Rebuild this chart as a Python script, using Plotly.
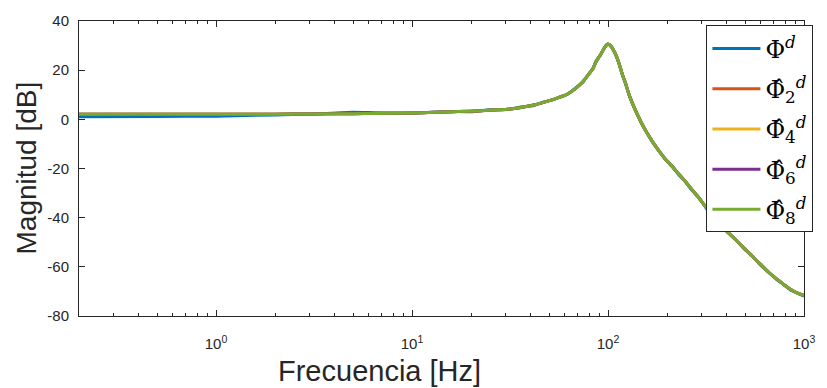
import plotly.graph_objects as go

# ---------------- data ----------------
freq_hz = [0.2, 0.5, 1, 2, 3, 5, 6.5, 10, 15, 20, 25, 30.6, 36, 41.8, 47, 52.7, 57,
           61.5, 68, 74.6, 80, 83.8, 87, 92.2, 96, 100, 104, 110, 114, 118.6, 123,
           128, 134, 141, 149, 158, 170, 181, 195, 212, 230, 247, 267, 290, 318,
           355, 400, 445, 495, 545, 601, 660, 728, 790, 849, 920, 1000]

mag_phi = [1.1, 1.15, 1.3, 1.8, 2.1, 2.9, 2.7, 2.5, 3.2, 3.1, 3.9, 4.0, 5.0, 5.6,
           7.1, 8.0, 9.2, 10.0, 12.6, 15.2, 18.7, 20.5, 23.7, 26.5, 29.3, 30.5,
           29.6, 25.8, 22.7, 17.9, 14.7, 9.9, 6.2, 1.9, -2.0, -5.5, -9.7, -12.5,
           -16.0, -18.9, -22.6, -25.2, -28.7, -31.7, -36.3, -40.7, -45.4, -48.7,
           -52.7, -55.6, -59.3, -62.2, -65.3, -67.3, -69.3, -70.6, -71.9]

mag_est2 = [2.1, 2.1, 2.1, 2.1, 2.2, 2.3, 2.4, 2.6, 3.0, 3.3, 3.7, 4.1, 4.8, 5.8,
            6.9, 8.1, 9.0, 10.1, 12.4, 15.4, 18.5, 20.7, 23.5, 26.7, 29.2, 30.6,
            29.5, 26.0, 22.5, 18.1, 14.5, 10.1, 6.0, 2.1, -1.8, -5.5, -9.5, -12.6,
            -15.9, -19.1, -22.3, -25.1, -28.4, -31.8, -36.0, -40.6, -45.1, -48.8,
            -52.4, -55.8, -59.0, -62.2, -65.0, -67.3, -69.0, -70.6, -71.6]
mag_est4 = list(mag_est2)
mag_est6 = list(mag_est2)
mag_est8 = list(mag_est2)

series_names = ["Φ<sup><i>d</i></sup>",
                "Φ̂<sub>2</sub><sup><i>d</i></sup>",
                "Φ̂<sub>4</sub><sup><i>d</i></sup>",
                "Φ̂<sub>6</sub><sup><i>d</i></sup>",
                "Φ̂<sub>8</sub><sup><i>d</i></sup>"]
series_values = [mag_phi, mag_est2, mag_est4, mag_est6, mag_est8]
series_colors = ["#0072BD", "#D95319", "#EDB120", "#7E2F8E", "#77AC30"]

x_tick_vals = [1, 10, 100, 1000]
x_tick_text = ["10<sup>0</sup>", "10<sup>1</sup>", "10<sup>2</sup>", "10<sup>3</sup>"]
y_tick_vals = [-80, -60, -40, -20, 0, 20, 40]
y_tick_text = ["-80", "-60", "-40", "-20", "0", "20", "40"]

# ---------------- figure ----------------
fig = go.Figure()
for i, (name, vals, col) in enumerate(zip(series_names, series_values, series_colors)):
    fig.add_trace(go.Scatter(x=freq_hz, y=vals, mode="lines", name=name,
                             legendgroup=f"g{i}",
                             line=dict(color=col, width=3, shape="spline", smoothing=0.5)))

axis_col = "#262626"
minor_vals = [m * d for d in [0.1, 1, 10, 100] for m in range(2, 10) if 0.2 <= m * d <= 1000]

fig.update_xaxes(type="log", range=[-0.699, 3.0], tickmode="array",
                 tickvals=x_tick_vals, ticktext=x_tick_text,
                 ticks="inside", ticklen=6, tickwidth=1, tickcolor=axis_col,
                 minor=dict(tickmode="array", tickvals=minor_vals, ticks="inside",
                            ticklen=3, tickcolor=axis_col, showgrid=False),
                 showline=True, linecolor=axis_col, linewidth=1, mirror="allticks",
                 showgrid=False, zeroline=False,
                 tickfont=dict(family="Liberation Sans, Arial", size=15, color=axis_col),
                 ticklabelstandoff=14)
fig.update_yaxes(range=[-80, 40], tickmode="array", tickvals=y_tick_vals,
                 ticktext=y_tick_text,
                 ticks="inside", ticklen=6, tickwidth=1, tickcolor=axis_col,
                 showline=True, linecolor=axis_col, linewidth=1, mirror="allticks",
                 showgrid=False, zeroline=False,
                 tickfont=dict(family="Liberation Sans, Arial", size=15, color=axis_col),
                 ticklabelstandoff=6)

fig.add_annotation(text="Frecuencia [Hz]", xref="paper", yref="paper",
                   x=0.415, y=0, yshift=-55, xanchor="center", yanchor="middle",
                   showarrow=False,
                   font=dict(family="Liberation Sans, Arial", size=29, color=axis_col))
fig.add_annotation(text="Magnitud [dB]", xref="paper", yref="paper",
                   x=0, xshift=-53, y=0.5, xanchor="center", yanchor="middle",
                   textangle=-90, showarrow=False,
                   font=dict(family="Liberation Sans, Arial", size=28, color=axis_col))

fig.update_layout(
    width=827, height=388,
    margin=dict(l=79, r=13, t=15, b=72),
    paper_bgcolor="white", plot_bgcolor="white",
    showlegend=True,
    legend=dict(x=1.013, xanchor="right", y=0.985, yanchor="top",
                bgcolor="white", bordercolor=axis_col, borderwidth=1,
                font=dict(family="DejaVu Serif, Liberation Serif", size=24, color="black"),
                tracegroupgap=6, itemwidth=48),
)

fig.write_html("out.html")
